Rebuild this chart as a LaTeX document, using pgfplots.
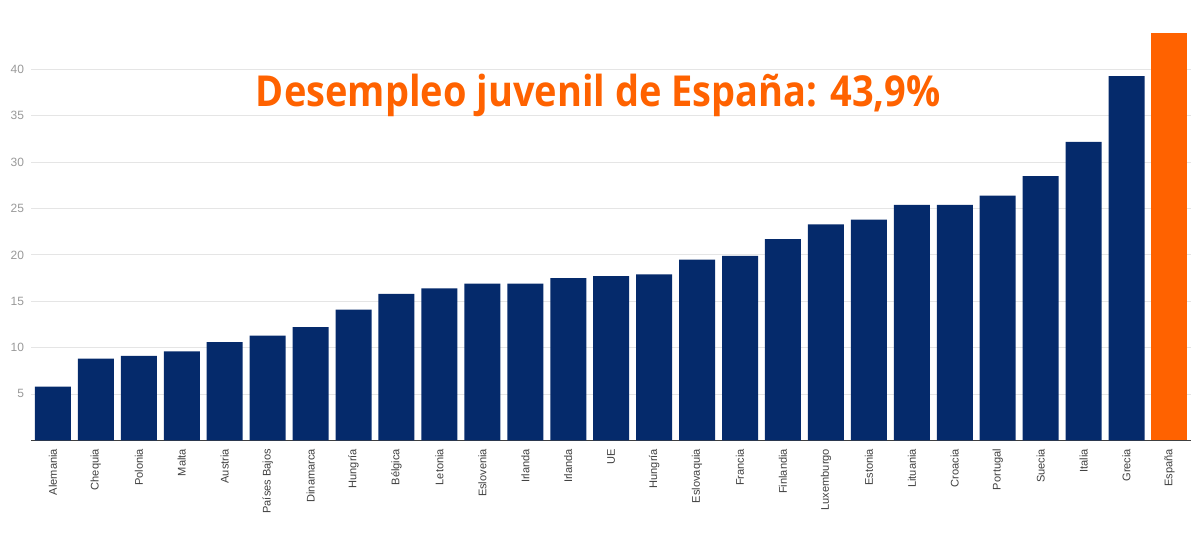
\documentclass[border=0pt]{standalone}
\usepackage{pgfplots}
\pgfplotsset{compat=1.18}
\usepackage{fontspec}
\setmainfont{Liberation Sans}
\newfontfamily\titlefont{Open Sans}
\definecolor{navy}{HTML}{052A6B}
\definecolor{orng}{HTML}{FF6200}
\begin{document}
\begin{tikzpicture}
\begin{axis}[
  scale only axis,
  width=869.6pt, height=330.2pt,
  xmin=-0.5, xmax=26.5,
  ymin=0, ymax=47.5,
  axis x line*=bottom, axis y line*=left,
  y axis line style={draw=none},
  x axis line style={draw=black!75, line width=1pt, -},
  major tick length=0pt,
  ytick={5,10,15,20,25,30,35,40},
  ymajorgrids,
  grid style={draw=black!10, line width=0.6pt},
  /pgf/number format/assume math mode=true,
  yticklabel style={color=black!40, font=\fontsize{9}{9}\selectfont, xshift=-2pt},
  xtick={0,...,26},
  xticklabels={Alemania,Chequia,Polonia,Malta,Austria,Países Bajos,Dinamarca,Hungría,Bélgica,Letonia,Eslovenia,Irlanda,Irlanda,UE,Hungría,Eslovaquia,Francia,Finlandia,Luxemburgo,Estonia,Lituania,Croacia,Portugal,Suecia,Italia,Grecia,España},
  xticklabel style={rotate=90, anchor=east, font=\fontsize{8.3}{8.3}\selectfont, color=black!75, xshift=-3pt},
  ybar, bar width=27pt,
]
\addplot[fill=navy, draw=none, bar shift=0pt] coordinates {
(0,5.8) (1,8.8) (2,9.1) (3,9.6) (4,10.6) (5,11.3) (6,12.2) (7,14.1) (8,15.8)
(9,16.4) (10,16.9) (11,16.9) (12,17.5) (13,17.7) (14,17.9) (15,19.5) (16,19.9)
(17,21.7) (18,23.3) (19,23.8) (20,25.4) (21,25.4) (22,26.4) (23,28.5) (24,32.2) (25,39.3)};
\addplot[fill=orng, draw=none, bar shift=0pt] coordinates {(26,43.9)};
\node[font=\titlefont\bfseries\fontsize{32}{32}\selectfont, text=orng] at (axis cs:12.7,37.2) {\scalebox{0.89}[1]{Desempleo juvenil de España: 43,9\%}};
\end{axis}
\pgfresetboundingbox
\path[use as bounding box] (-23.6pt,-71.8pt) rectangle (876.4pt,330.2pt);
\end{tikzpicture}
\end{document}
